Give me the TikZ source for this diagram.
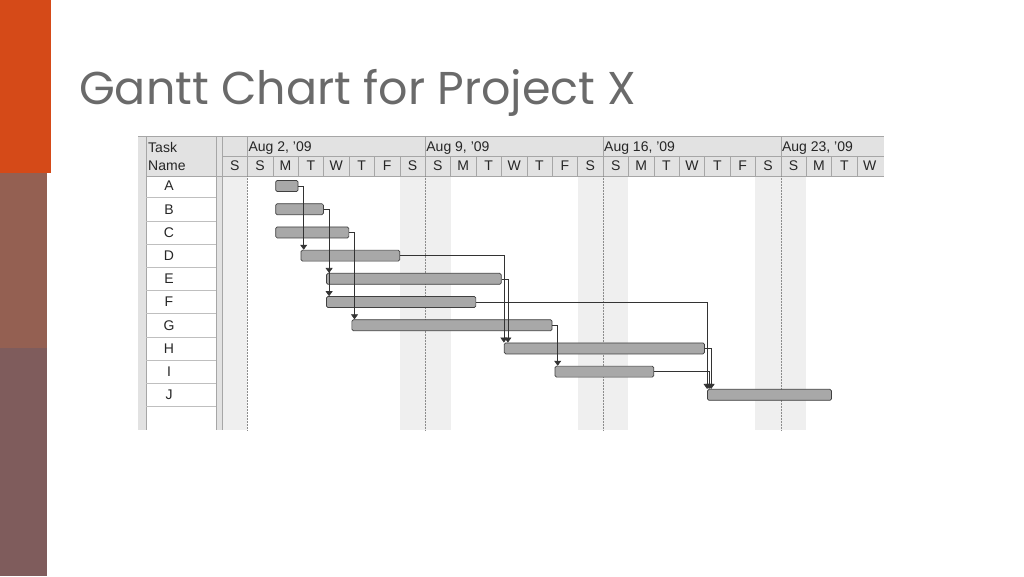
\documentclass[tikz,border=0pt]{standalone}
\usepackage{fontspec}
\setmainfont{Liberation Sans}
\newfontfamily\titlefont{Poppins}
\usetikzlibrary{arrows.meta}
\definecolor{orangeA}{HTML}{D54A18}
\definecolor{brownB}{HTML}{946052}
\definecolor{mauveC}{HTML}{7F5C5C}
\definecolor{hdr}{HTML}{E2E2E2}
\definecolor{wkend}{HTML}{EFEFEF}
\definecolor{titlegray}{HTML}{6A6A6A}
\definecolor{barfill}{HTML}{A8A8A8}
\begin{document}
\begin{tikzpicture}[x=1pt,y=-1pt,
  lbl/.style={font=\fontsize{14}{14}\selectfont, text=black!85, inner sep=0pt},
  gbar/.style={draw=black!75, fill=barfill, rounded corners=1.5pt, line width=0.7pt, minimum height=11pt, inner sep=0pt, anchor=west},
  conn/.style={draw=black!80, line width=0.6pt, -{Triangle[length=5pt,width=7pt]}},
  grid/.style={draw=black!35, line width=0.6pt}]
\useasboundingbox (0,0) rectangle (1024,576);
\fill[white] (0,0) rectangle (1024,576);
% side bands
\fill[orangeA] (0,0) rectangle (51,173);
\fill[brownB] (0,173) rectangle (47,348);
\fill[mauveC] (0,348) rectangle (47,576);
% title
\node[anchor=base west, inner sep=0pt, text=titlegray, font=\titlefont\fontsize{46}{46}\selectfont] (title) at (79,104) {Gantt Chart for Project X};
% chart frame
\fill[hdr] (138,136) rectangle (884,176);
\fill[hdr] (138,176) rectangle (146,430);
\fill[hdr] (216,176) rectangle (222,430);
\draw[grid] (138,136) -- (884,136);
% weekend shading
\foreach \d/\n in {0/1,7/2,14/2,21/2}{
  \fill[wkend] ({222+25.4*\d},176) rectangle ({222+25.4*(\d+\n)},430);
}
% task column
\node[lbl, anchor=north west, align=left, font=\fontsize{14}{18}\selectfont] (tn) at (148,142) {Task\\Name};
\draw[grid] (146,136) -- (146,430);
\draw[grid] (216,136) -- (216,430);
\draw[grid] (222,136) -- (222,430);
\foreach \t [count=\i from 0] in {A,B,C,D,E,F,G,H,I,J}{
  \node[lbl] (r\t) at (169,{186+23.2*\i}) {\t};
  \draw[draw=black!25] (146,{197.6+23.2*\i}) -- (216,{197.6+23.2*\i});
}
% header rows
\draw[grid] (222,156) -- (884,156);
\draw[grid] (146,176) -- (884,176);
\foreach \d [count=\i from 0] in {S,S,M,T,W,T,F,S,S,M,T,W,T,F,S,S,M,T,W,T,F,S,S,M,T,W}{
  \node[lbl] (day\i) at ({222+25.4*\i+12.7},166) {\d};
  \draw[grid] ({222+25.4*\i},156) -- ({222+25.4*\i},176);
}
\foreach \w/\lab in {1/{Aug 2, '09},8/{Aug 9, '09},15/{Aug 16, '09},22/{Aug 23, '09}}{
  \draw[grid] ({222+25.4*\w},136) -- ({222+25.4*\w},156);
  \node[lbl, anchor=west] (wk\w) at ({222+25.4*\w+1},148) {\lab};
  \draw[black!45, densely dotted, line width=0.5pt] ({222+25.4*\w},176) -- ({222+25.4*\w},430);
}
% bars: name / start day / length / row
\foreach \t/\s/\l/\r in {A/2/1/0,B/2/2/1,C/2/3/2,D/3/4/3,E/4/7/4,F/4/6/5,G/5/8/6,H/11/8/7,I/13/4/8,J/19/5/9}{
  \node[gbar, minimum width={25.4*\l-3}] (b\t) at ({222+25.4*\s+2.5},{186+23.2*\r}) {};
}
% connectors
\draw[conn] (bA.east) -| ([xshift=3pt]bD.north west);
\draw[conn] (bB.east) -| ([xshift=3pt]bE.north west);
\draw[conn] (bB.east) -| ([xshift=3pt]bF.north west);
\draw[conn] (bC.east) -| ([xshift=3pt]bG.north west);
\draw[conn] (bD.east) -| ([xshift=0pt]bH.north west);
\draw[conn] (bE.east) -| ([xshift=4pt]bH.north west);
\draw[conn] (bG.east) -| ([xshift=3pt]bI.north west);
\draw[conn] (bF.east) -| ([xshift=0pt]bJ.north west);
\draw[conn] (bH.east) -| ([xshift=4pt]bJ.north west);
\draw[conn] (bI.east) -| ([xshift=2pt]bJ.north west);
\end{tikzpicture}
\end{document}
